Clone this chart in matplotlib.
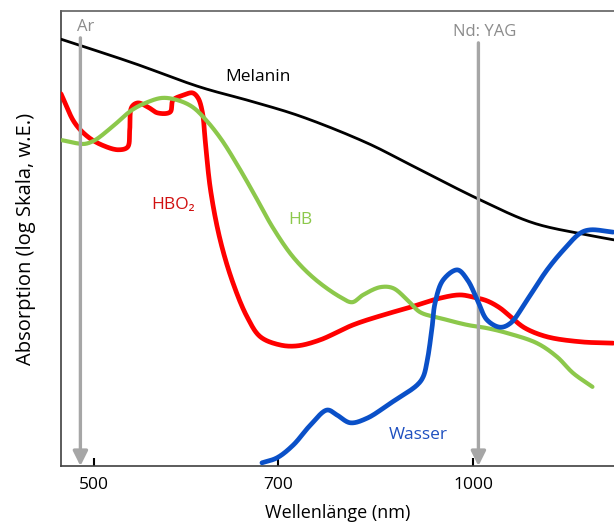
import numpy as np
import matplotlib
matplotlib.use("Agg")
import matplotlib.pyplot as plt

plt.rcParams['font.family'] = ['Open Sans', 'DejaVu Sans']

# Absorption spectra (wavelength in nm, absorption in arbitrary log units)
melanin_nm = [471, 537, 607, 666, 729, 824, 892, 1013, 1117, 1232, 1294]
melanin_y = [93.8, 88.6, 83.3, 80.2, 76.9, 71.0, 66.2, 58.5, 53.4, 50.8, 49.7]

hbo2_nm = [471, 483, 495, 508, 523, 532, 534, 536, 542, 552, 562, 575, 578, 589,
           599, 605, 610, 613, 619, 630, 645, 662, 678, 703, 725, 756, 803, 849,
           892, 942, 977, 1001, 1026, 1051, 1074, 1100, 1145, 1217, 1292]
hbo2_y = [81.8, 75.4, 72.3, 70.5, 69.5, 70.1, 73.8, 78.9, 79.8, 78.9, 77.6, 77.8,
          80.4, 81.5, 82.0, 80.9, 77.6, 71.6, 60.7, 49.7, 40.2, 32.7, 28.4, 26.6,
          26.4, 27.7, 31.0, 33.2, 34.9, 36.9, 37.6, 37.1, 36.3, 34.7, 32.5, 30.3,
          28.4, 27.3, 27.0]

hb_nm = [472, 483, 492, 501, 517, 536, 552, 567, 583, 599, 615, 632, 650, 669,
         694, 720, 749, 785, 802, 818, 844, 864, 887, 908, 942, 990, 1026,
         1065, 1124, 1166, 1201, 1244]
hb_y = [71.6, 71.0, 70.8, 71.6, 74.5, 78.2, 80.0, 80.9, 80.4, 78.9, 75.8, 71.6,
        66.2, 60.2, 52.3, 45.9, 41.1, 37.1, 36.0, 37.6, 39.3, 39.1, 36.5,
        33.8, 32.5, 31.0, 30.3, 29.2, 27.0, 24.0, 20.4, 17.4]

wasser_nm = [680, 699, 720, 743, 766, 780, 799, 824, 860, 903, 913, 920, 928, 933,
             947, 972, 990, 1008, 1026, 1051, 1071, 1104, 1145, 1180, 1217, 1239,
             1292]
wasser_y = [0.7, 1.8, 4.6, 9.0, 12.3, 11.2, 9.5, 10.5, 13.8, 17.8, 19.6, 23.3,
            30.5, 35.8, 40.9, 43.1, 40.9, 36.5, 32.1, 30.5, 31.4, 36.5, 43.1,
            47.5, 51.2, 51.9, 51.4]

# Laser lines
laser_names = ["Ar", "Nd: YAG"]
laser_nm = [488, 1010]
laser_top = [94.1, 93.0]

xticks = [500, 700, 1000]
xtick_labels = ["500", "700", "1000"]


def smooth(xs, ys, n=24, alpha=0.5):
    """Centripetal Catmull-Rom curve through the points (log-wavelength space)."""
    sx, sy = 1260.0, 4.55  # roughly isotropic working space
    P = np.column_stack([np.log10(np.asarray(xs, float)) * sx,
                         np.asarray(ys, float) * sy])
    P = np.vstack([2 * P[0] - P[1], P, 2 * P[-1] - P[-2]])
    out = []
    for i in range(1, len(P) - 2):
        p0, p1, p2, p3 = P[i - 1], P[i], P[i + 1], P[i + 2]
        t0 = 0.0
        t1 = t0 + max(np.linalg.norm(p1 - p0), 1e-6) ** alpha
        t2 = t1 + max(np.linalg.norm(p2 - p1), 1e-6) ** alpha
        t3 = t2 + max(np.linalg.norm(p3 - p2), 1e-6) ** alpha
        t = np.linspace(t1, t2, n, endpoint=False)[:, None]
        a1 = (t1 - t) / (t1 - t0) * p0 + (t - t0) / (t1 - t0) * p1
        a2 = (t2 - t) / (t2 - t1) * p1 + (t - t1) / (t2 - t1) * p2
        a3 = (t3 - t) / (t3 - t2) * p2 + (t - t2) / (t3 - t2) * p3
        b1 = (t2 - t) / (t2 - t0) * a1 + (t - t0) / (t2 - t0) * a2
        b2 = (t3 - t) / (t3 - t1) * a2 + (t - t1) / (t3 - t1) * a3
        c = (t2 - t) / (t2 - t1) * b1 + (t - t1) / (t2 - t1) * b2
        out.append(c)
    out.append(P[-2][None, :])
    out = np.vstack(out)
    return 10 ** (out[:, 0] / sx), out[:, 1] / sy


fig = plt.figure(figsize=(6.14, 5.24), dpi=100)
ax = fig.add_axes([61 / 614, 58 / 524, 553 / 614, 455 / 524])
ax.set_xscale('log')
ax.set_xlim(471, 1294)
ax.set_ylim(0, 100)

# Laser arrows
for name, nm, top in zip(laser_names, laser_nm, laser_top):
    ax.annotate("", xy=(nm, 0), xytext=(nm, top),
                arrowprops=dict(arrowstyle='-|>', color='#a6a6a6', lw=2.4,
                                mutation_scale=22, shrinkA=0, shrinkB=0),
                zorder=4, annotation_clip=False)

ax.text(493, 96.5, "Ar", color='#8c8c8c', fontsize=12, ha='center', va='center')
ax.text(1022, 95.4, "Nd: YAG", color='#8c8c8c', fontsize=12, ha='center', va='center')

line_kw = dict(solid_capstyle='round', solid_joinstyle='round', clip_on=True)
ax.plot(*smooth(melanin_nm, melanin_y), color='black', lw=2.0, zorder=3, **line_kw)
ax.plot(*smooth(hbo2_nm, hbo2_y), color='#ff0000', lw=3.4, zorder=3, **line_kw)
ax.plot(*smooth(hb_nm, hb_y), color='#8cc84b', lw=3.0, zorder=3, **line_kw)
ax.plot(*smooth(wasser_nm, wasser_y), color='#0a50c8', lw=3.4, zorder=5, **line_kw)

ax.text(675, 85.5, "Melanin", color='black', fontsize=12.5, ha='center', va='center')
ax.text(578, 57.4, "HBO₂", color='#d01010', fontsize=12.5, ha='center', va='center')
ax.text(729, 54.1, "HB", color='#8cc84b', fontsize=12.5, ha='center', va='center')
ax.text(905, 6.8, "Wasser", color='#1f50c0', fontsize=12.5, ha='center', va='center')

ax.set_xticks(xticks)
ax.set_xticklabels(xtick_labels)
ax.xaxis.set_minor_locator(matplotlib.ticker.NullLocator())
ax.set_yticks([])
ax.tick_params(axis='x', direction='in', length=6, width=1.5, color='black',
               labelsize=12.5, pad=8)

for side in ['left', 'bottom']:
    ax.spines[side].set_color('#404040')
    ax.spines[side].set_linewidth(1.2)
ax.spines['top'].set_color('#606060')
ax.spines['top'].set_linewidth(1.2)
ax.spines['right'].set_visible(False)

ax.set_xlabel("Wellenlänge (nm)", fontsize=13, labelpad=8)
ax.set_ylabel("Absorption (log Skala, w.E.)", fontsize=14.5, labelpad=18)

fig.savefig("out.png", dpi=100)
